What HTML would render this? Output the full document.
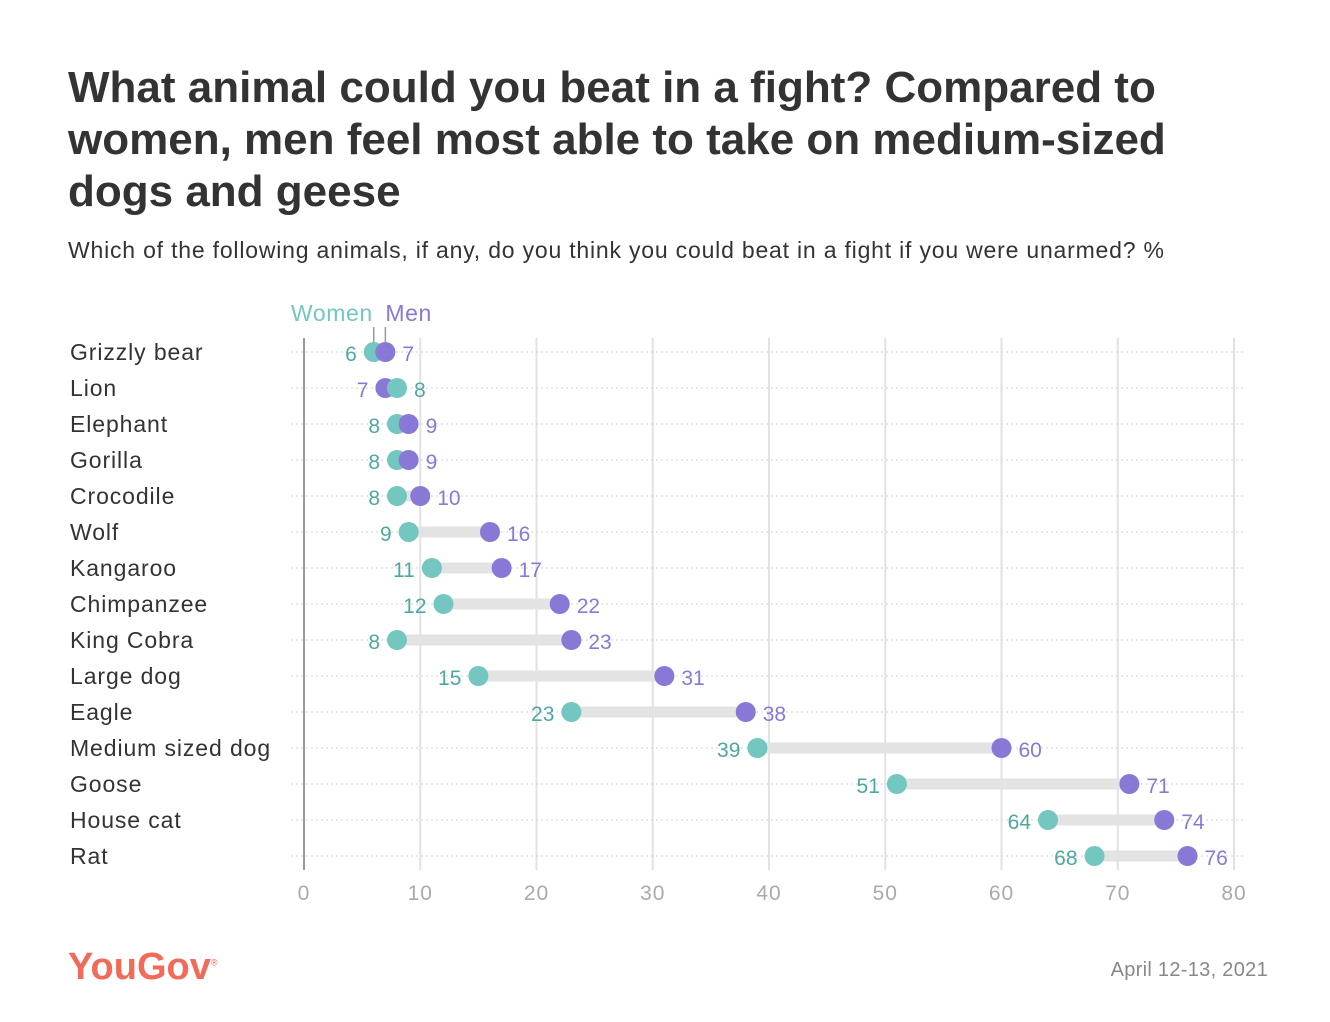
<!DOCTYPE html>
<html><head><meta charset="utf-8">
<style>
body{margin:0;background:#fff;width:1330px;height:1022px;overflow:hidden;font-family:"Liberation Sans",sans-serif;}
#title{position:absolute;left:68px;top:62px;width:1150px;font-size:44px;font-weight:bold;color:#333;line-height:52px;letter-spacing:0px;margin:0}
#sub{position:absolute;left:68px;top:237px;font-size:23px;letter-spacing:0.8px;color:#333}
#logo{position:absolute;left:68px;top:946px;font-size:38px;font-weight:bold;color:#f26a5a;letter-spacing:0}
#date{position:absolute;right:62px;top:959px;font-size:20px;letter-spacing:0.3px;color:#888}
svg{position:absolute;left:0;top:0}
</style></head><body>
<h1 id="title">What animal could you beat in a fight? Compared to women, men feel most able to take on medium-sized dogs and geese</h1>
<div id="sub">Which of the following animals, if any, do you think you could beat in a fight if you were unarmed? %</div>
<div id="logo">YouGov<sup style="font-size:9px;font-weight:normal">®</sup></div>
<div id="date">April 12-13, 2021</div>
<svg id="chart" width="1330" height="1022"></svg>
<script>
const categories=["Grizzly bear","Lion","Elephant","Gorilla","Crocodile","Wolf","Kangaroo","Chimpanzee","King Cobra","Large dog","Eagle","Medium sized dog","Goose","House cat","Rat"];
const women=[6,8,8,8,8,9,11,12,8,15,23,39,51,64,68];
const men=[7,7,9,9,10,16,17,22,23,31,38,60,71,74,76];
const ticks=[0,10,20,30,40,50,60,70,80];
const NS="http://www.w3.org/2000/svg";
const svg=document.getElementById('chart');
const x=v=>304+v*11.625;
const y=i=>352+i*36;
const WC="#74c6c0",MC="#8a78d6",WT="#4ea8a0";
function mk(t,a,p){const e=document.createElementNS(NS,t);for(const k in a)e.setAttribute(k,a[k]);(p||svg).appendChild(e);return e;}
ticks.forEach(t=>{
  const l=mk('line',{x1:x(t),x2:x(t),y1:338,y2:870,stroke:t===0?'#999':'#e2e2e2','stroke-width':2});
  
  
  const tx=mk('text',{x:x(t),y:900,'text-anchor':'middle','font-size':21,'letter-spacing':1,fill:'#aaa'});
  tx.textContent=t;
  
  
});
categories.forEach((c,i)=>{
  const yy=y(i);
  const d=mk('line',{x1:291,x2:1245,y1:yy,y2:yy,stroke:'#d0d0d0','stroke-width':1,'stroke-dasharray':'2,3'});
  
  
  const lab=mk('text',{x:70,y:yy+8,'font-size':23,'letter-spacing':0.9,fill:'#333'});
  lab.textContent=c;
  
  
  const w=women[i],m=men[i];
  const bar=mk('line',{x1:x(w),x2:x(m),y1:yy,y2:yy,stroke:'#e3e3e3','stroke-width':11});
  
  
  const lo=Math.min(w,m),hi=Math.max(w,m);
  const menHigh=m>=w;
  const order=menHigh?[[w,WC],[m,MC]]:[[m,MC],[w,WC]];
  order.forEach(([v,col])=>{
    const ci=mk('circle',{cx:x(v),cy:yy,r:10,fill:col});
    
    
  });
  const lt=mk('text',{x:x(lo)-17,y:yy+9,'text-anchor':'end','font-size':21,fill:menHigh?WT:MC});
  lt.textContent=menHigh?w:m;
  
  
  const rt=mk('text',{x:x(hi)+17,y:yy+9,'text-anchor':'start','font-size':21,fill:menHigh?MC:WT});
  rt.textContent=menHigh?m:w;
  
  
});
const lw=mk('text',{x:x(women[0])-1,y:321,'text-anchor':'end','font-size':23,'letter-spacing':0.6,fill:WC});
lw.textContent='Women';


const lm=mk('text',{x:x(men[0]),y:321,'text-anchor':'start','font-size':23,'letter-spacing':0.6,fill:MC});
lm.textContent='Men';


[women[0],men[0]].forEach(v=>{
  const t=mk('line',{x1:x(v),x2:x(v),y1:327,y2:342,stroke:'#999','stroke-width':1.5});
  
  
});
</script>
</body></html>
